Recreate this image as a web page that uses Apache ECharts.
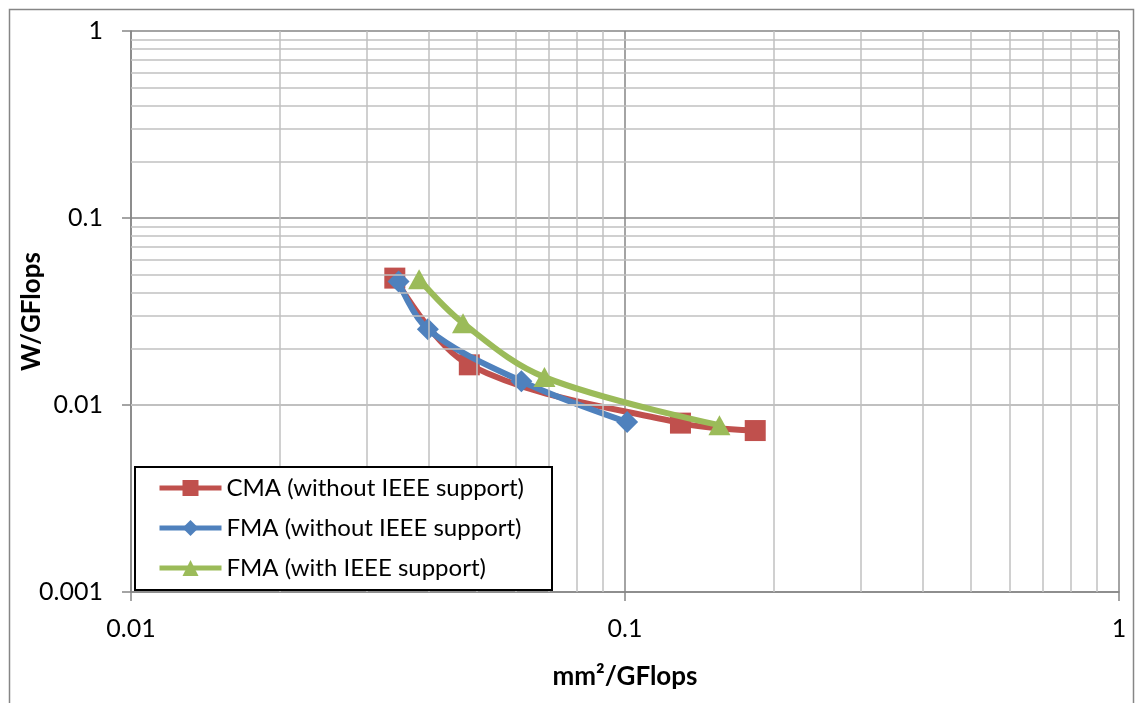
<!DOCTYPE html>
<html>
<head>
<meta charset="utf-8">
<script src="https://cdn.jsdelivr.net/npm/echarts@6/dist/echarts.min.js"></script>
<style>
html,body{margin:0;padding:0;background:#fff;}
#chart{width:1138px;height:703px;}
</style>
</head>
<body>
<div id="chart"></div>
<script>
// Data (log-log)
const seriesNames = ['CMA (without IEEE support)', 'FMA (without IEEE support)', 'FMA (with IEEE support)'];
const cmaX = [0.0342, 0.0484, 0.1295, 0.1835];
const cmaY = [0.0477, 0.0164, 0.0080, 0.0073];
const fmaX = [0.0348, 0.0399, 0.0617, 0.1010];
const fmaY = [0.0457, 0.0254, 0.0134, 0.0081];
const fmaIeeeX = [0.0383, 0.0470, 0.0687, 0.1553];
const fmaIeeeY = [0.0470, 0.0274, 0.0141, 0.0078];

// Minor grid values (per decade 2..9)
const xMinor = [0.02,0.03,0.04,0.05,0.06,0.07,0.08,0.09,0.2,0.3,0.4,0.5,0.6,0.7,0.8,0.9];
const yMinor = [0.002,0.003,0.004,0.005,0.006,0.007,0.008,0.009,0.02,0.03,0.04,0.05,0.06,0.07,0.08,0.09,0.2,0.3,0.4,0.5,0.6,0.7,0.8,0.9];

const xName = 'mm²/GFlops';
const yName = 'W/GFlops';

const pairs = (xs, ys) => xs.map((x, i) => [x, ys[i]]);
const FONT = 'Lato, "Open Sans", sans-serif';

const chart = echarts.init(document.getElementById('chart'), null, {renderer: 'canvas'});

const minorLines = [];
xMinor.forEach(v => minorLines.push({xAxis: v}));
yMinor.forEach(v => minorLines.push({yAxis: v}));

const option = {
  backgroundColor: '#ffffff',
  animation: false,
  grid: {left: 131, top: 31, right: 19, bottom: 111, containLabel: false, outerBoundsMode: 'none'},
  xAxis: {
    type: 'log', logBase: 10, min: 0.01, max: 1,
    name: xName, nameLocation: 'middle', nameGap: 72, nameMoveOverlap: false,
    nameTextStyle: {fontFamily: FONT, fontSize: 26, fontWeight: 'bold', color: '#000'},
    axisLine: {show: true, lineStyle: {color: '#868686', width: 1.5}},
    axisTick: {show: true, inside: false, length: 9, lineStyle: {color: '#868686', width: 1.5}},
    axisLabel: {fontFamily: FONT, fontSize: 25, color: '#000', margin: 24,
      formatter: v => String(+v.toPrecision(3))},
    splitLine: {show: true, lineStyle: {color: '#868686', width: 1.5}},
    minorTick: {show: false}, minorSplitLine: {show: false}
  },
  yAxis: {
    type: 'log', logBase: 10, min: 0.001, max: 1,
    name: yName, nameLocation: 'middle', nameGap: 86, nameMoveOverlap: false,
    nameTextStyle: {fontFamily: FONT, fontSize: 26, fontWeight: 'bold', color: '#000'},
    axisLine: {show: true, lineStyle: {color: '#868686', width: 1.5}},
    axisTick: {show: true, inside: false, length: 9, lineStyle: {color: '#868686', width: 1.5}},
    axisLabel: {fontFamily: FONT, fontSize: 25, color: '#000', margin: 28,
      formatter: v => String(+v.toPrecision(3))},
    splitLine: {show: true, lineStyle: {color: '#868686', width: 1.5}},
    minorTick: {show: false}, minorSplitLine: {show: false}
  },
  legend: {
    orient: 'vertical', left: 157, top: 476,
    itemWidth: 62, itemHeight: 20, itemGap: 16, padding: 0,
    data: seriesNames,
    lineStyle: {width: 5},
    textStyle: {fontFamily: FONT, fontSize: 24, color: '#000', lineHeight: 24},
    z: 10
  },
  graphic: [
    {type: 'rect', left: 7, top: 7, z: 0, silent: true,
      shape: {width: 1124, height: 720}, style: {fill: 'none', stroke: '#868686', lineWidth: 1.5}},
    {type: 'rect', left: 134, top: 466, z: 8, silent: true,
      shape: {width: 417, height: 123}, style: {fill: '#ffffff', stroke: '#000000', lineWidth: 2}}
  ],
  series: [
    {
      name: '_grid', type: 'line', data: [], silent: true, z: 1,
      markLine: {silent: true, symbol: 'none', label: {show: false},
        lineStyle: {color: '#c0c0c0', width: 1.5, type: 'solid'},
        animation: false, data: minorLines}
    },
    {
      name: seriesNames[0], type: 'line', data: pairs(cmaX, cmaY), smooth: 0.35,
      symbol: 'rect', symbolSize: 21, z: 3,
      lineStyle: {color: '#c0504d', width: 6}, itemStyle: {color: '#c0504d'}
    },
    {
      name: seriesNames[1], type: 'line', data: pairs(fmaX, fmaY), smooth: 0.35,
      symbol: 'diamond', symbolSize: [22, 22], z: 4,
      lineStyle: {color: '#4f81bd', width: 6}, itemStyle: {color: '#4f81bd'}
    },
    {
      name: seriesNames[2], type: 'line', data: pairs(fmaIeeeX, fmaIeeeY), smooth: 0.35,
      symbol: 'triangle', symbolSize: [22, 20], z: 5,
      lineStyle: {color: '#9bbb59', width: 6}, itemStyle: {color: '#9bbb59'}
    }
  ]
};
chart.setOption(option);
</script>
</body>
</html>
